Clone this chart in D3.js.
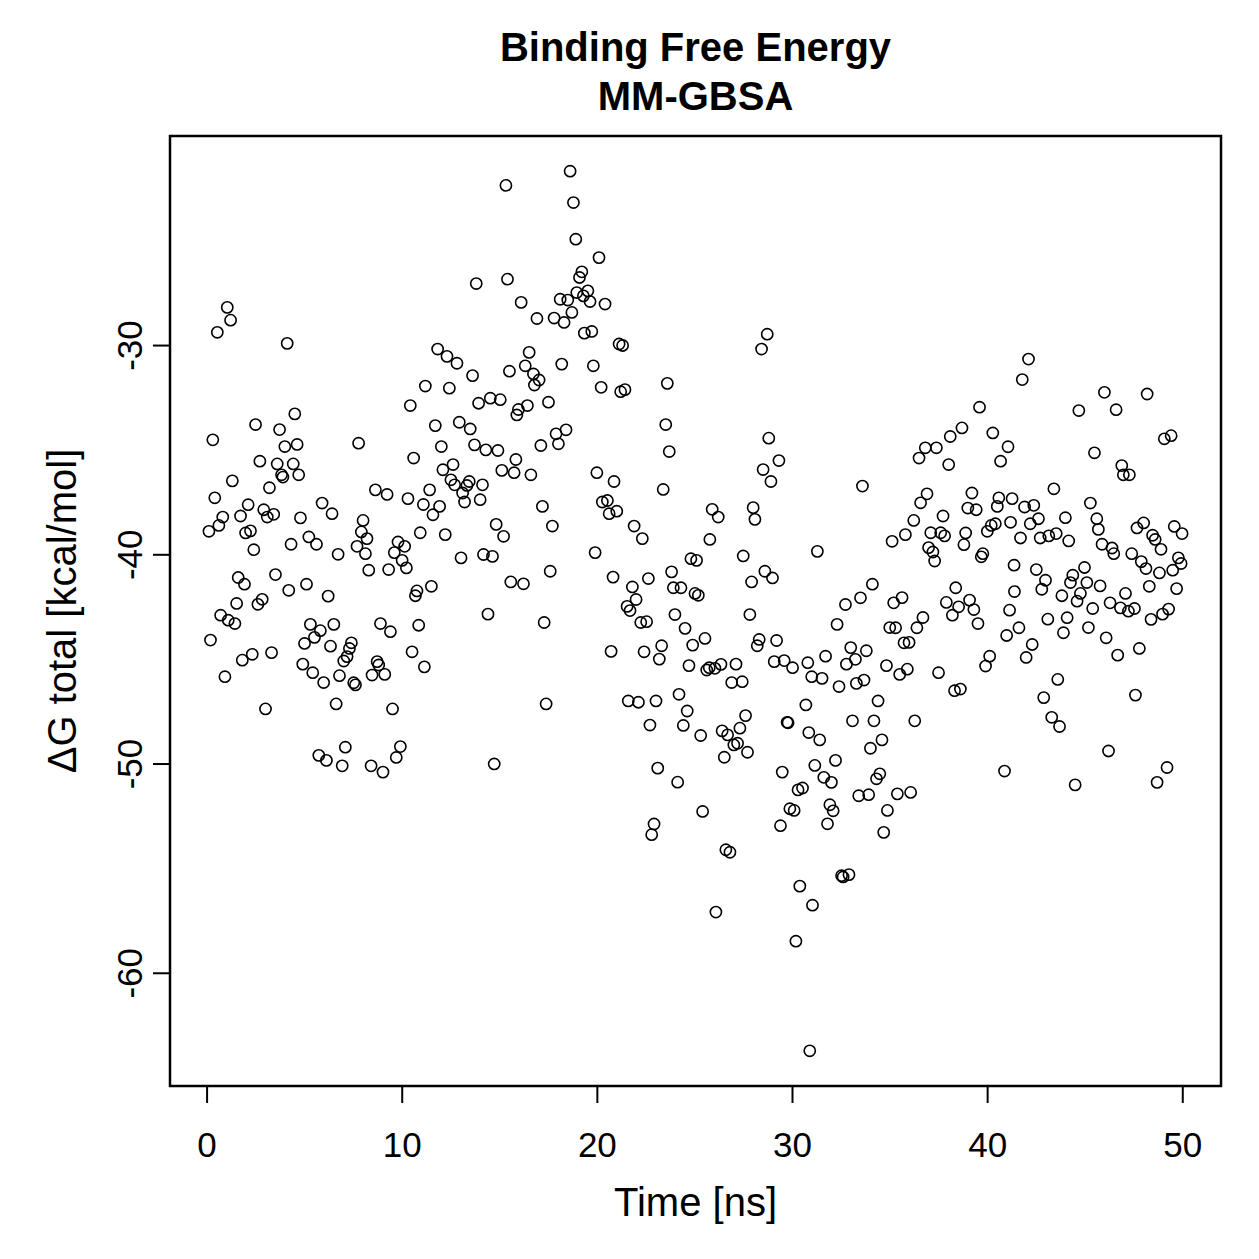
<!DOCTYPE html>
<html>
<head>
<meta charset="utf-8">
<script src="https://cdn.jsdelivr.net/npm/d3@7"></script>
<style>
  html, body { margin: 0; padding: 0; background: #fff; }
  svg text { font-family: "Liberation Sans", Arial, Helvetica, sans-serif; fill: #000; }
</style>
</head>
<body>
<svg id="chart" width="1259" height="1259"></svg>
<script>
// MM-GBSA binding free energy per frame, [time (ns), dG total (kcal/mol)]
var samples = [
  [1.06,-28.20],[1.23,-28.81],[0.55,-29.39],[4.13,-29.92],[11.21,-31.96],[10.44,-32.89],[4.52,-33.29],[2.51,-33.80],
  [3.74,-34.04],[0.32,-34.53],[7.79,-34.69],[4.64,-34.75],[4.01,-34.85],[10.61,-35.40],[2.73,-35.55],[3.62,-35.68],
  [4.44,-35.68],[4.72,-36.20],[3.84,-36.20],[3.91,-36.31],[1.32,-36.49],[3.22,-36.82],[8.65,-36.92],
  [0.42,-37.30],[2.13,-37.63],[2.93,-37.87],[5.92,-37.55],[6.43,-38.06],[9.25,-37.14],[10.32,-37.34],[11.11,-37.62],
  [0.83,-38.22],[1.74,-38.17],[3.11,-38.22],[3.44,-38.09],[4.81,-38.26],[0.63,-38.62],[0.12,-38.90],[2.00,-38.98],
  [2.25,-38.88],[8.02,-38.38],[7.93,-38.93],[8.22,-39.25],[10.95,-38.97],[2.42,-39.78],[4.33,-39.52],[5.24,-39.17],
  [5.63,-39.52],[6.74,-40.00],[7.71,-39.62],[8.14,-39.97],[9.81,-39.41],[10.15,-39.62],[9.62,-39.92],[10.02,-40.29],
  [10.24,-40.65],[9.33,-40.73],[8.31,-40.76],[1.62,-41.11],[1.94,-41.43],[3.53,-40.97],[4.21,-41.72],[5.12,-41.43],
  [6.23,-42.00],[10.78,-41.75],[10.70,-41.98],[1.54,-42.35],[2.85,-42.15],[2.63,-42.39],[0.72,-42.91],[1.11,-43.15],
  [1.45,-43.31],[5.32,-43.35],[5.83,-43.65],[6.52,-43.35],[8.91,-43.31],[9.42,-43.70],[10.87,-43.39],[0.20,-44.10],
  [5.02,-44.26],[5.53,-43.97],[6.35,-44.39],[7.42,-44.23],[7.32,-44.50],[7.20,-44.89],[7.03,-45.10],[10.53,-44.66],
  [11.16,-45.38],[1.83,-45.06],[2.34,-44.78],[3.33,-44.70],[4.93,-45.25],[5.44,-45.66],[8.74,-45.13],[8.82,-45.29],
  [8.48,-45.77],[9.13,-45.74],[6.81,-45.80],[0.94,-45.85],[6.00,-46.13],[7.54,-46.14],[7.63,-46.24],
  [6.64,-47.15],[3.02,-47.39],[9.53,-47.39],[7.11,-49.22],[5.75,-49.61],[6.14,-49.85],[6.95,-50.11],[8.43,-50.11],
  [9.04,-50.41],[9.72,-49.71],[9.93,-49.19],
  [18.63,-21.69],[15.34,-22.37],[18.80,-23.19],[18.92,-24.94],[20.11,-25.82],[13.82,-27.06],[15.42,-26.85],[19.23,-26.50],
  [19.11,-26.77],[18.97,-27.49],[19.54,-27.41],[19.31,-27.65],[19.65,-27.92],[20.42,-28.04],[18.12,-27.81],[18.51,-27.85],
  [18.72,-28.44],[18.32,-28.92],[17.81,-28.71],[16.12,-27.96],[16.93,-28.73],[19.36,-29.43],[19.74,-29.35],[21.14,-29.95],
  [21.32,-30.02],[11.84,-30.19],[12.32,-30.54],[12.83,-30.87],[13.63,-31.46],[12.44,-32.06],[15.52,-31.25],[16.33,-30.99],
  [16.53,-30.35],[16.75,-31.38],[17.04,-31.67],[16.80,-31.91],[18.20,-30.91],[19.82,-30.99],[20.22,-32.02],[21.22,-32.23],
  [21.44,-32.13],[13.94,-32.78],[14.54,-32.54],[15.05,-32.61],[15.98,-33.08],[15.90,-33.34],[16.44,-32.89],[17.52,-32.73],
  [11.72,-33.85],[12.95,-33.69],[13.51,-34.01],[12.03,-34.85],[13.73,-34.77],[14.31,-35.01],[14.93,-35.04],[17.13,-34.80],
  [17.91,-34.24],[18.42,-34.05],[18.03,-34.72],[15.85,-35.47],[15.13,-35.99],[15.76,-36.10],[16.62,-36.20],[12.63,-35.71],
  [12.11,-35.96],[12.52,-36.44],[12.71,-36.68],[13.46,-36.52],[13.34,-36.71],[14.14,-36.68],[13.12,-37.07],[13.22,-37.50],
  [14.02,-37.39],[11.43,-36.92],[11.94,-37.71],[11.60,-38.11],[12.23,-39.06],[14.84,-38.57],[15.22,-39.14],[17.21,-37.71],
  [17.72,-38.65],[20.00,-36.10],[20.88,-36.52],[20.28,-37.50],[20.54,-37.43],[20.63,-38.06],[21.02,-37.94],[19.91,-39.92],
  [20.83,-41.09],[13.04,-40.17],[14.19,-40.01],[14.65,-40.10],[17.61,-40.81],[15.59,-41.32],[16.24,-41.41],[11.52,-41.53],
  [14.42,-42.86],[17.30,-43.26],[20.73,-44.64],[17.40,-47.15],[14.74,-50.02],
  [28.73,-29.48],[28.44,-30.19],[23.61,-31.83],[23.53,-33.80],[23.71,-35.09],[28.81,-34.45],[29.33,-35.52],[28.52,-35.95],
  [28.92,-36.52],[23.40,-36.90],[21.91,-38.65],[22.33,-39.25],[25.91,-37.85],[26.22,-38.22],[25.79,-39.29],[28.01,-37.77],
  [28.10,-38.33],[27.50,-40.08],[31.30,-39.86],[24.82,-40.21],[25.11,-40.29],[23.83,-40.84],[23.92,-41.60],[24.31,-41.60],
  [25.03,-41.87],[25.20,-41.96],[28.61,-40.81],[29.00,-41.13],[27.93,-41.32],[21.82,-41.56],[22.64,-41.16],[22.01,-42.16],
  [21.55,-42.49],[21.70,-42.69],[24.00,-42.88],[27.84,-42.88],
  [22.25,-43.26],[22.55,-43.22],[24.52,-43.54],[22.42,-44.66],[23.32,-44.37],[23.20,-45.01],[24.91,-44.34],[25.54,-44.02],
  [24.72,-45.32],[25.63,-45.53],[25.76,-45.42],[26.05,-45.45],[26.36,-45.26],[27.13,-45.25],[26.91,-46.13],[27.45,-46.09],
  [28.32,-44.07],[28.22,-44.37],[29.21,-44.12],[29.09,-45.13],[29.60,-45.08],[30.03,-45.42],[30.81,-45.18],[31.01,-45.85],
  [21.61,-47.01],[22.13,-47.07],[23.03,-47.01],[24.21,-46.69],[24.63,-47.49],[24.43,-48.18],[25.32,-48.66],[22.72,-48.16],
  [27.62,-47.71],[27.33,-48.31],[26.42,-48.44],[26.70,-48.63],[27.21,-49.03],[27.02,-49.11],[27.72,-49.46],[26.53,-49.70],
  [30.71,-47.20],[29.75,-48.03],[29.80,-48.05],[30.86,-48.52],[31.17,-50.09],[29.50,-50.41],[30.31,-51.26],[30.54,-51.17],
  [23.12,-50.22],[24.14,-50.89],[25.42,-52.29],[22.93,-52.89],[22.81,-53.40],[29.89,-52.16],[30.11,-52.24],[29.41,-52.97],
  [26.61,-54.12],[26.82,-54.24],[30.40,-55.86],[31.05,-56.77],[26.10,-57.10],[30.20,-58.49],[30.91,-63.73],
  [39.61,-32.97],[38.71,-33.96],[38.11,-34.37],[40.29,-34.20],[41.07,-34.86],[40.69,-35.55],[36.83,-34.91],[37.40,-34.91],
  [36.51,-35.40],[38.03,-35.71],[33.61,-36.74],[36.92,-37.11],[36.59,-37.54],[39.22,-37.07],[40.60,-37.30],[40.52,-37.71],
  [41.28,-37.34],[39.01,-37.79],[39.44,-37.87],[37.74,-38.17],[36.24,-38.38],[35.81,-39.06],[35.13,-39.38],[37.11,-38.97],
  [37.62,-38.97],[37.82,-39.12],[38.90,-38.98],[38.81,-39.54],[40.01,-38.90],[40.21,-38.62],[40.42,-38.54],[41.20,-38.47],
  [37.00,-39.68],[37.22,-39.89],[37.31,-40.32],[39.78,-39.97],[39.70,-40.12],[41.38,-40.52],
  [34.12,-41.43],[33.51,-42.08],[32.74,-42.40],[32.31,-43.35],[35.21,-42.32],[35.64,-42.07],[35.01,-43.50],[35.31,-43.51],
  [36.71,-43.02],[36.40,-43.51],[35.74,-44.23],[36.00,-44.21],[38.39,-41.60],[37.91,-42.30],[38.54,-42.51],[38.22,-42.91],
  [39.10,-42.19],[39.32,-42.64],[39.53,-43.31],[41.40,-41.78],[41.15,-42.67],[41.00,-43.88],[40.13,-44.87],[39.92,-45.34],
  [37.51,-45.66],[38.33,-46.52],[38.63,-46.44],[33.01,-44.46],[33.81,-44.61],[33.25,-45.02],[32.79,-45.25],[31.72,-44.87],
  [31.54,-45.93],[32.41,-46.32],[33.30,-46.17],[33.69,-46.01],[34.84,-45.32],[35.52,-45.74],[35.91,-45.49],[34.41,-47.01],
  [33.10,-47.96],[34.20,-47.96],[36.29,-47.96],[31.42,-48.87],[34.61,-48.87],[34.02,-49.27],[32.23,-49.85],[31.63,-50.66],
  [32.02,-50.90],[34.50,-50.49],[34.33,-50.73],[33.42,-51.54],[33.93,-51.49],[35.40,-51.45],[36.08,-51.38],[31.94,-51.97],
  [32.11,-52.26],[31.82,-52.88],[34.89,-52.24],[34.70,-53.29],[40.89,-50.36],[32.54,-55.36],[32.92,-55.31],[32.62,-55.42],
  [42.12,-30.67],[41.80,-31.65],[46.01,-32.26],[48.20,-32.34],[44.70,-33.13],[46.61,-33.09],[49.08,-34.48],[49.43,-34.33],
  [45.50,-35.15],[46.90,-35.76],[46.98,-36.20],[47.29,-36.20],[43.42,-36.87],[41.92,-37.74],[42.39,-37.66],[45.29,-37.55],
  [42.63,-38.30],[42.21,-38.54],[44.01,-38.25],[45.62,-38.30],[45.70,-38.81],[41.71,-39.22],[42.72,-39.22],[43.16,-39.12],
  [43.54,-39.01],[44.18,-39.36],[48.02,-38.50],[47.68,-38.74],[48.48,-39.09],[48.61,-39.29],[48.91,-39.76],[49.59,-38.67],
  [49.99,-39.01],[45.89,-39.52],[46.40,-39.70],[46.49,-39.97],[47.41,-39.97],[47.90,-40.35],[48.14,-40.68],[49.80,-40.17],
  [49.94,-40.44],[42.52,-40.73],[44.99,-40.63],
  [42.99,-41.24],[42.80,-41.67],[44.39,-41.00],[44.27,-41.35],[45.11,-41.35],[45.79,-41.51],[44.78,-41.87],[44.61,-42.24],
  [43.83,-41.98],[43.11,-43.10],[44.10,-43.03],[43.91,-43.75],[45.19,-43.50],[45.41,-42.59],[46.30,-42.32],[46.83,-42.56],
  [47.09,-41.87],[47.24,-42.72],[47.55,-42.59],[48.31,-41.53],[48.83,-40.89],[49.51,-40.76],[49.71,-41.64],[49.30,-42.62],
  [48.99,-42.86],[48.40,-43.11],[41.63,-43.51],[42.31,-44.31],[42.00,-44.93],[46.10,-43.99],[46.69,-44.82],[47.80,-44.50],
  [43.62,-45.98],[42.90,-46.85],[47.60,-46.73],[43.31,-47.79],[43.71,-48.23],[46.22,-49.40],[44.51,-51.02],[49.22,-50.19],
  [48.71,-50.90]
];

var xTicks = [0, 10, 20, 30, 40, 50];
var yTicks = [-30, -40, -50, -60];
var titleLines = ["Binding Free Energy", "MM-GBSA"];
var xLabel = "Time [ns]";
var yLabel = "\u0394G total [kcal/mol]";

// plot region (base graphics style box)
var plot = {left: 170, right: 1221, top: 136, bottom: 1086};
var tick_len = 17;

var svg = d3.select("#chart");
svg.append("rect").attr("width", 1259).attr("height", 1259).attr("fill", "#fff");

// R pads the data range by 4% on each side
function padded(ext) {
  var d = (ext[1] - ext[0]) * 0.04;
  return [ext[0] - d, ext[1] + d];
}

var x = d3.scaleLinear()
  .domain(padded(d3.extent(samples, function(d){ return d[0]; })))
  .range([plot.left, plot.right]);

var y = d3.scaleLinear()
  .domain(padded(d3.extent(samples, function(d){ return d[1]; })))
  .range([plot.bottom, plot.top]);

// plain hyphen for negatives, like R
var fmt = function(v){ return String(v); };

// points
svg.append("g")
  .selectAll("circle")
  .data(samples)
  .enter()
  .append("circle")
  .attr("cx", function(d){ return x(d[0]); })
  .attr("cy", function(d){ return y(d[1]); })
  .attr("r", 5.6)
  .attr("fill", "none")
  .attr("stroke", "#000")
  .attr("stroke-width", 1.6);

// x axis
var xAxis = svg.append("g")
  .attr("transform", "translate(0," + plot.bottom + ")")
  .call(d3.axisBottom(x).tickValues(xTicks).tickFormat(fmt)
    .tickSize(tick_len).tickPadding(29));
xAxis.select(".domain").remove();
xAxis.selectAll("line").attr("stroke", "#000").attr("stroke-width", 2);
xAxis.selectAll("text").attr("font-size", 35).attr("font-family", null);

// y axis, labels parallel to the axis
var yAxis = svg.append("g")
  .attr("transform", "translate(" + plot.left + ",0)")
  .call(d3.axisLeft(y).tickValues(yTicks).tickFormat(fmt).tickSize(tick_len));
yAxis.select(".domain").remove();
yAxis.selectAll("line").attr("stroke", "#000").attr("stroke-width", 2);
yAxis.selectAll("text")
  .attr("x", null).attr("dy", null)
  .attr("text-anchor", "middle")
  .attr("font-size", 35).attr("font-family", null)
  .attr("transform", "translate(-28,0) rotate(-90)");

// box
svg.append("rect")
  .attr("x", plot.left).attr("y", plot.top)
  .attr("width", plot.right - plot.left)
  .attr("height", plot.bottom - plot.top)
  .attr("fill", "none")
  .attr("stroke", "#000")
  .attr("stroke-width", 2.5);

// titles
var midX = (plot.left + plot.right) / 2;
svg.selectAll(".title")
  .data(titleLines)
  .enter()
  .append("text")
  .attr("class", "title")
  .attr("x", midX)
  .attr("y", function(d, i){ return 61 + i * 49; })
  .attr("text-anchor", "middle")
  .attr("font-size", 40)
  .attr("font-weight", "bold")
  .text(function(d){ return d; });

svg.append("text")
  .attr("x", midX).attr("y", 1216)
  .attr("text-anchor", "middle")
  .attr("font-size", 40)
  .text(xLabel);

svg.append("text")
  .attr("transform", "translate(76," + ((plot.top + plot.bottom) / 2) + ") rotate(-90)")
  .attr("text-anchor", "middle")
  .attr("font-size", 40)
  .text(yLabel);
</script>
</body>
</html>
